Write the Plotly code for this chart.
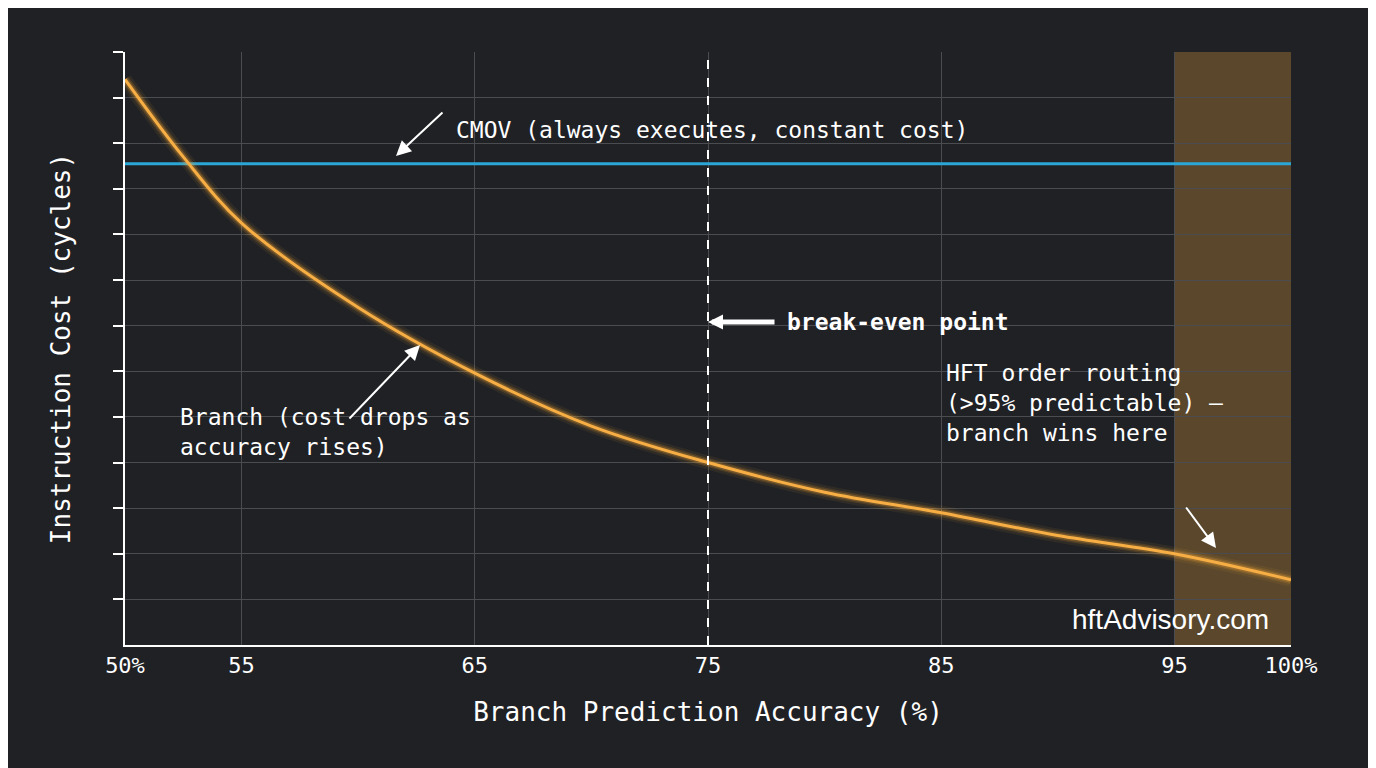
import plotly.graph_objects as go

accuracy = [50, 52.5, 55, 60, 65, 70, 75, 80, 85, 90, 95, 100]
branch_cost = [12.4, 10.7, 9.25, 7.4, 5.96, 4.8, 4.0, 3.35, 2.9, 2.4, 2.0, 1.43]
cmov_cost = 10.55
x_ticks = [50, 55, 65, 75, 85, 95, 100]
x_labels = ["50%", "55", "65", "75", "85", "95", "100%"]
y_ticks = list(range(1, 14))

BG = "#1f2125"
MONO = "DejaVu Sans Mono"

L, R, T, B = 117, 93, 44, 131
W, H = 1376, 768
PW, PH = W - L - R, H - T - B


def px(x):
    return (x - L) / PW


def py(y):
    return (H - B - y) / PH


fig = go.Figure()

# shaded HFT zone
fig.add_vrect(x0=95, x1=100, fillcolor="#5e4a2c", opacity=0.95, line_width=0, layer="below")

fig.add_trace(go.Scatter(x=[50, 100], y=[cmov_cost, cmov_cost], mode="lines",
                         line=dict(color="#2aa7d6", width=3), hoverinfo="skip"))
# glow
for w, a in [(14, 0.08), (9, 0.15), (6, 0.25)]:
    fig.add_trace(go.Scatter(x=accuracy, y=branch_cost, mode="lines",
                             line=dict(color=f"rgba(245,166,50,{a})", width=w, shape="spline"),
                             hoverinfo="skip"))
fig.add_trace(go.Scatter(x=accuracy, y=branch_cost, mode="lines",
                         line=dict(color="#f7ae45", width=3, shape="spline")))

fig.add_vline(x=75, line=dict(color="white", width=2, dash="dash"))

ann = dict(font=dict(family=MONO, size=23, color="white"), showarrow=False,
           xref="paper", yref="paper", xanchor="left")
fig.add_annotation(x=px(446), y=py(107), text="CMOV (always executes, constant cost)", **ann)
fig.add_annotation(x=px(170), y=py(454), text="Branch (cost drops as<br>accuracy rises)", align="left", **ann)
fig.add_annotation(x=px(936), y=py(440), text="HFT order routing<br>(>95% predictable) —<br>branch wins here",
                   align="left", **ann)
fig.add_annotation(x=px(777), y=py(314), text="<b>break-even point</b>", **ann)

arrows = [
    ((436, 103), (388, 148), 2, 1.5),
    ((340, 412), (412, 337), 2, 1.5),
    ((1177, 498), (1208, 540), 2, 1.5),
    ((768, 314), (700, 314), 5, 0.6),
]
for (x0, y0), (x1, y1), w, s in arrows:
    fig.add_annotation(x=px(x1), y=py(y1), ax=px(x0), ay=py(y0), xref="x domain", yref="y domain",
                       axref="x domain", ayref="y domain", showarrow=True, arrowhead=2,
                       arrowsize=s, arrowwidth=w, arrowcolor="white", text="")

fig.add_annotation(x=1, y=0, xref="paper", yref="paper", xanchor="right", yanchor="bottom",
                   text="hftAdvisory.com", showarrow=False, xshift=-20, yshift=8,
                   font=dict(family="Liberation Sans", size=28, color="white"))

fig.update_layout(
    width=W, height=H, showlegend=False,
    plot_bgcolor=BG, paper_bgcolor=BG,
    margin=dict(l=L, r=R, t=T, b=B),
    font=dict(family=MONO, color="white", size=22),
    xaxis=dict(range=[50, 100], tickvals=x_ticks, ticktext=x_labels,
               showgrid=True, gridcolor="#4a4c50", gridwidth=1,
               showline=True, linecolor="white", linewidth=2, ticks="",
               title=dict(text="Branch Prediction Accuracy (%)", standoff=25), zeroline=False),
    yaxis=dict(range=[0, 13], tickvals=y_ticks, showticklabels=False,
               ticks="outside", ticklen=10, tickcolor="white", tickwidth=2,
               showgrid=True, gridcolor="#4a4c50", gridwidth=1,
               showline=True, linecolor="white", linewidth=2, zeroline=False,
               title=dict(text="Instruction Cost (cycles)", standoff=35)),
)

fig.write_html("out.html")
